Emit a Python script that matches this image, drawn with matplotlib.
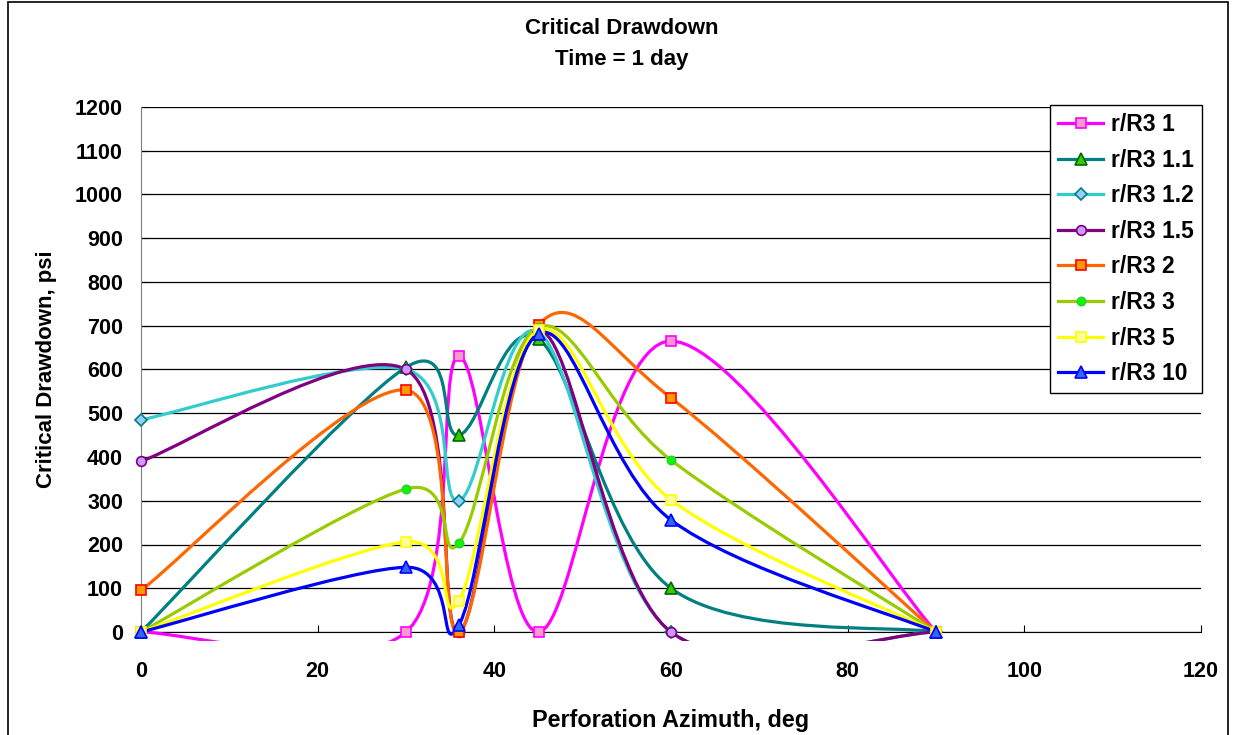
import matplotlib
matplotlib.use("Agg")
import matplotlib.pyplot as plt
from matplotlib.path import Path
from matplotlib.patches import PathPatch, Rectangle
from matplotlib.lines import Line2D

plt.rcParams['font.family'] = ['Liberation Sans', 'DejaVu Sans']
plt.rcParams['font.weight'] = 'bold'

# perforation azimuth, deg
azimuth = [0, 30, 36, 45, 60, 90]

# critical drawdown, psi, one list per r/R3
r_1 = [0, 0, 630, 0, 665, 0]
r_1_1 = [0, 605, 450, 670, 100, 0]
r_1_2 = [485, 600, 300, 685, 0, 0]
r_1_5 = [390, 600, 0, 690, 0, 0]
r_2 = [95, 553, 0, 702, 535, 0]
r_3 = [0, 327, 203, 697, 393, 0]
r_5 = [0, 206, 72, 690, 302, 0]
r_10 = [0, 148, 16, 682, 256, 0]

labels = ['r/R3 1', 'r/R3 1.1', 'r/R3 1.2', 'r/R3 1.5', 'r/R3 2', 'r/R3 3', 'r/R3 5', 'r/R3 10']
series = [r_1, r_1_1, r_1_2, r_1_5, r_2, r_3, r_5, r_10]

# line colour, marker, marker face, marker edge, marker size
styles = [
    ('#ff00ff', 's', '#ff99cc', '#ff00ff', 7),
    ('#008080', '^', '#33cc00', '#006600', 8),
    ('#33cccc', 'D', '#99ccff', '#008080', 6),
    ('#800080', 'o', '#cc99ff', '#800080', 7),
    ('#ff6600', 's', '#ff9900', '#ff0000', 7),
    ('#99cc00', 'o', '#00ff00', '#33cc33', 6),
    ('#ffff00', 's', '#ffff99', '#ffff00', 7),
    ('#0000ff', '^', '#3366ff', '#0000ff', 9),
]


def smooth_path(xs, ys):
    # excel-like smoothed line: cubic bezier, catmull-rom control points
    pts = list(zip(xs, ys))
    n = len(pts)
    verts = [pts[0]]
    codes = [Path.MOVETO]
    for i in range(n - 1):
        p0 = pts[max(i - 1, 0)]
        p1 = pts[i]
        p2 = pts[i + 1]
        p3 = pts[min(i + 2, n - 1)]
        c1 = (p1[0] + (p2[0] - p0[0]) / 6, p1[1] + (p2[1] - p0[1]) / 6)
        c2 = (p2[0] - (p3[0] - p1[0]) / 6, p2[1] - (p3[1] - p1[1]) / 6)
        verts += [c1, c2, p2]
        codes += [Path.CURVE4] * 3
    return Path(verts, codes)


fig = plt.figure(figsize=(12.34, 7.35), dpi=100)
ax = fig.add_axes([141 / 1234, 1 - 632 / 735, 1060 / 1234, 525 / 735])

clip = Rectangle((0, -20), 120, 1240, transform=ax.transData, facecolor='none', edgecolor='none')
ax.add_patch(clip)

handles = []
for vals, lab, (lc, mk, mfc, mec, ms) in zip(series, labels, styles):
    patch = PathPatch(smooth_path(azimuth, vals), facecolor='none', edgecolor=lc, lw=2.3, zorder=3)
    ax.add_patch(patch)
    patch.set_clip_path(clip)
    ax.plot(azimuth, vals, ls='none', marker=mk, mfc=mfc, mec=mec, ms=ms, mew=1.2,
            zorder=4, clip_on=False)
    handles.append(Line2D([], [], color=lc, lw=2.3, marker=mk, mfc=mfc, mec=mec, ms=ms, mew=1.2))

ax.set_xlim(0, 120)
ax.set_ylim(0, 1200)
ax.set_xticks(range(0, 121, 20))
ax.set_yticks(range(0, 1201, 100))
ax.yaxis.grid(True, color='black', lw=0.9)
ax.set_axisbelow(True)
for s in ['top', 'right']:
    ax.spines[s].set_visible(False)
ax.spines['left'].set_color('#808080')
ax.spines['bottom'].set_color('black')
ax.tick_params(axis='both', direction='in', length=5, labelsize=15.5, colors='black')
ax.tick_params(axis='x', pad=21)
ax.tick_params(axis='y', pad=13)
for t in ax.get_xticklabels() + ax.get_yticklabels():
    t.set_fontweight('bold')

ax.set_xlabel('Perforation Azimuth, deg', fontsize=16.8, fontweight='bold', labelpad=19)
ax.set_ylabel('Critical Drawdown, psi', fontsize=16, fontweight='bold', labelpad=13)

fig.text(622 / 1234, 1 - 29 / 735, 'Critical Drawdown', ha='center', va='center', fontsize=16, fontweight='bold')
fig.text(622 / 1234, 1 - 59 / 735, 'Time = 1 day', ha='center', va='center', fontsize=16, fontweight='bold')

leg = ax.legend(handles, labels, loc='upper right', bbox_to_anchor=(1202 / 1234, 1 - 105 / 735),
                bbox_transform=fig.transFigure, fontsize=16.5, frameon=True, fancybox=False,
                edgecolor='black', framealpha=1, handlelength=1.95, labelspacing=0.55,
                borderpad=0.35, handletextpad=0.35, borderaxespad=0)
leg.get_frame().set_linewidth(1.0)
for t in leg.get_texts():
    t.set_fontweight('bold')

fig.patches.append(Rectangle((8 / 1234, -0.02), 1220 / 1234, 1.02 - 2 / 735, transform=fig.transFigure,
                             facecolor='none', edgecolor='black', lw=1.2))

fig.savefig('out.png', dpi=100)
